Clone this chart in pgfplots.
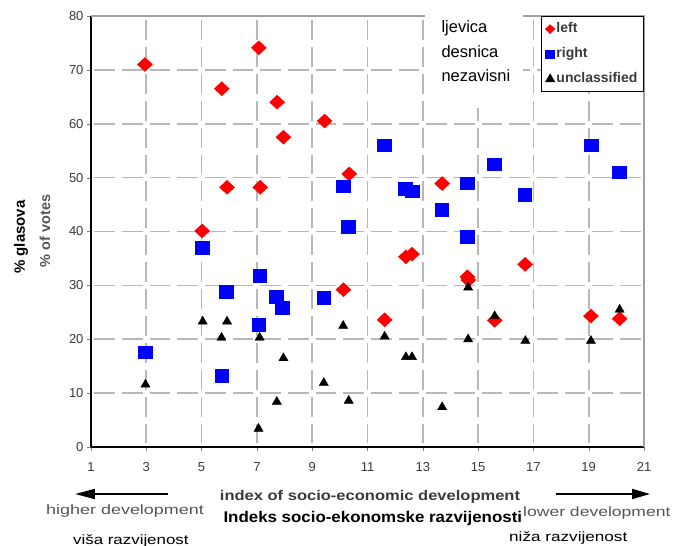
\documentclass[border=0pt]{standalone}
\usepackage{pgfplots}
\pgfplotsset{compat=1.18}
\usepackage{fontspec}
\setmainfont{Liberation Sans}
\usetikzlibrary{arrows.meta}
\definecolor{gridgray}{HTML}{B8B8B8}
\definecolor{bordergray}{HTML}{A0A0A0}
\definecolor{labelgray}{HTML}{3A3A3A}
\definecolor{softgray}{HTML}{555555}
\newcommand{\px}[1]{\fontsize{#1}{#1}\selectfont}

\begin{document}
\begin{tikzpicture}
\useasboundingbox (-91pt,-99pt) rectangle (592pt,447pt);
\begin{axis}[
  scale only axis,
  width=553pt, height=431pt,
  xmin=1, xmax=21, ymin=0, ymax=80,
  xtick={1,3,...,21}, ytick={0,10,...,80},
  axis x line*=bottom, axis y line*=left,
  axis line style={-, black, line width=1.3pt},
  tick align=outside,
  major tick length=4pt,
  xmajorgrids, ymajorgrids,
  major x grid style={gridgray, line width=1.6pt, dash pattern=on 19.9pt off 7pt, dash phase=23.4pt},
  major y grid style={gridgray, line width=1.6pt, dash pattern=on 20.65pt off 7pt, dash phase=24.15pt},
  /pgf/number format/assume math mode=true,
  tick label style={font=\px{13}, text=labelgray},
  xticklabel style={yshift=-8pt},
  clip=false,
  legend style={at={(1,1)}, anchor=north east, draw=black, line width=1.2pt,
    font=\bfseries\px{14}, text=labelgray, inner sep=4pt, row sep=8pt,
    nodes={inner sep=2pt, text height=10pt, text depth=3pt}},
  legend cell align=left,
  legend image code/.code={\draw[mark repeat=2,mark phase=2] plot coordinates {(0pt,0pt)(4pt,0pt)(8pt,0pt)};},
]
% left
\addplot[only marks, mark=diamond*, color=red, mark size=7pt,
  mark options={draw=none, xscale=1.43},
  legend image post style={mark size=4pt}] coordinates {
(2.95,71.0) (7.07,74.1) (5.73,66.5) (7.73,64.0) (7.96,57.5) (9.45,60.5)
(5.92,48.2) (7.12,48.2) (10.34,50.7) (5.02,40.1) (10.13,29.2) (11.62,23.6)
(12.39,35.3) (12.61,35.8) (13.70,48.9) (14.61,31.6) (14.65,31.0) (15.60,23.5)
(16.70,33.9) (19.08,24.3) (20.12,23.8)
};
\addlegendentry{left}
% right
\addplot[only marks, mark=square*, color=blue, mark size=6.3pt,
  mark options={draw=none, xscale=1.08},
  legend image post style={mark size=4pt}] coordinates {
(2.97,17.6) (5.02,37.0) (5.72,13.2) (5.90,28.8) (7.10,31.8) (7.06,22.7)
(7.70,27.9) (7.92,25.9) (9.42,27.7) (10.12,48.4) (10.31,40.9) (11.60,56.0)
(12.37,48.0) (12.61,47.5) (13.68,44.0) (14.61,49.0) (14.61,39.0) (15.59,52.5)
(16.69,46.8) (19.08,56.0) (20.11,51.0)
};
\addlegendentry{right}
% unclassified
\addplot[only marks, mark=triangle*, color=black, mark size=5.3pt,
  mark options={draw=none},
  legend image post style={mark size=4.6pt}] coordinates {
(2.97,11.6) (5.04,23.3) (5.72,20.3) (5.92,23.3) (7.10,20.3) (7.06,3.4)
(7.72,8.4) (7.96,16.5) (9.42,11.9) (10.12,22.5) (10.32,8.6) (11.62,20.5)
(12.39,16.7) (12.61,16.7) (13.70,7.4) (14.64,29.6) (14.64,20.0) (15.60,24.3)
(16.71,19.7) (19.08,19.7) (20.12,25.5)
};
\addlegendentry{unclassified}
\draw[bordergray, line width=1.5pt] (rel axis cs:0,1) -- (rel axis cs:1,1) -- (rel axis cs:1,0);
\fill[white] (rel axis cs:0.604,0.787) rectangle (rel axis cs:0.781,1.006);
\end{axis}
% text box inside plot
\node[anchor=base west, font=\px{16.5}] at (347pt,414pt) {ljevica};
\node[anchor=base west, font=\px{16.5}] at (347pt,389pt) {desnica};
\node[anchor=base west, font=\px{16.5}] at (347pt,365pt) {nezavisni};
% y labels
\node[rotate=90, font=\bfseries\px{15}] at (-70pt,210pt) {\% glasova};
\node[rotate=90, font=\bfseries\px{14.5}, text=softgray] at (-46pt,216pt) {\% of votes};
% x labels
\node[anchor=base, font=\bfseries\px{14}, text=labelgray] at (279pt,-54pt) {\scalebox{1.18}[1]{index of socio-economic development}};
\node[anchor=base west, font=\bfseries\px{15.5}] at (129pt,-76pt) {\scalebox{1.09}[1]{Indeks socio-ekonomske razvijenosti}};
\node[anchor=base west, font=\px{13.5}, text=softgray, inner sep=0pt] at (-45pt,-68pt) {\scalebox{1.33}[1]{higher development}};
\node[anchor=base west, font=\px{13.5}, text=black, inner sep=0pt] at (-18pt,-97pt) {\scalebox{1.25}[1]{viša razvijenost}};
\node[anchor=base west, font=\px{13.5}, text=softgray, inner sep=0pt] at (432pt,-70pt) {\scalebox{1.30}[1]{lower development}};
\node[anchor=base west, font=\px{13.5}, text=black, inner sep=0pt] at (418pt,-95pt) {\scalebox{1.27}[1]{niža razvijenost}};
% arrows
\draw[line width=2pt, -{Triangle[length=20pt,width=10pt]}] (77pt,-47pt) -- (-16pt,-47pt);
\draw[line width=2pt, -{Triangle[length=18pt,width=10pt]}] (465pt,-47pt) -- (559pt,-47pt);
\end{tikzpicture}
\end{document}
